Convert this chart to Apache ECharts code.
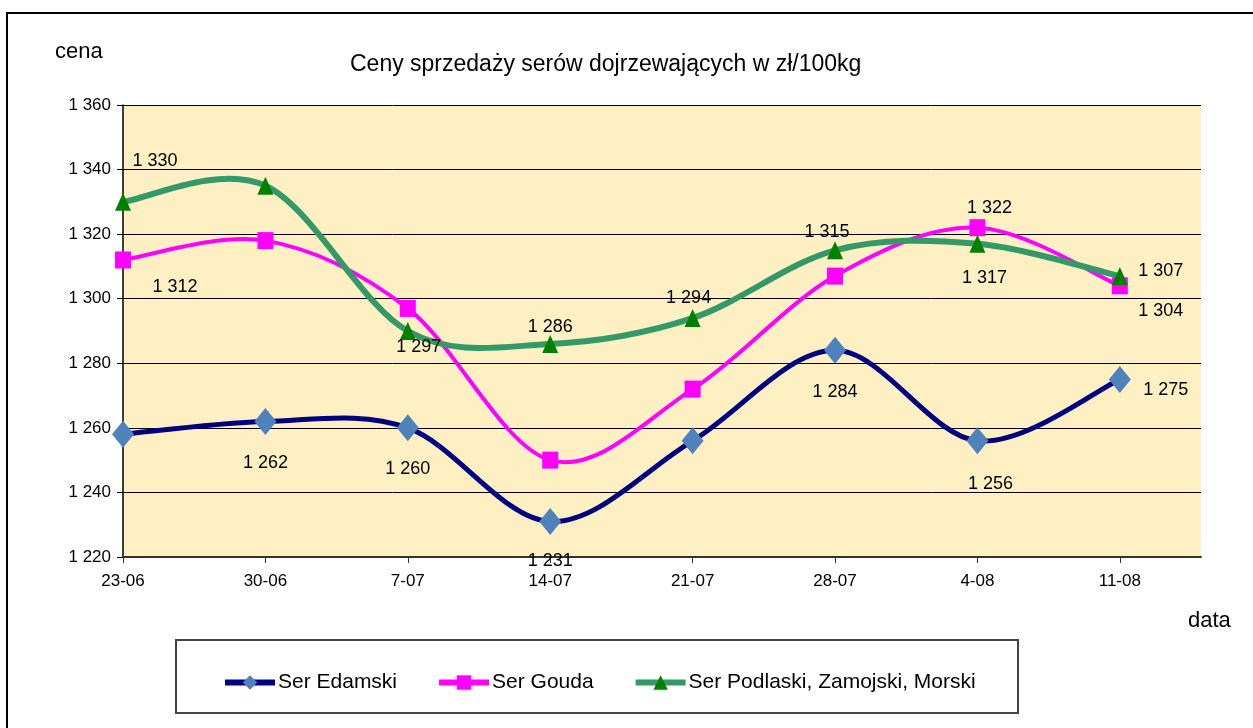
<!DOCTYPE html>
<html>
<head>
<meta charset="utf-8">
<script src="https://cdn.jsdelivr.net/npm/echarts@6/dist/echarts.min.js"></script>
<style>
  html, body { margin: 0; padding: 0; background: #fff; }
  #chart { width: 1253px; height: 728px; }
</style>
</head>
<body>
<div id="chart"></div>
<script>
// dane z wykresu
var categories = ['23-06', '30-06', '7-07', '14-07', '21-07', '28-07', '4-08', '11-08'];
var edamski = [1258, 1262, 1260, 1231, 1256, 1284, 1256, 1275];
var gouda = [1312, 1318, 1297, 1250, 1272, 1307, 1322, 1304];
var podlaski = [1330, 1335, 1290, 1286, 1294, 1315, 1317, 1307];

// gdzie stoja etykiety (null = brak etykiety)
var edamskiLabels = [null, [0, 42], [0, 41], [0, 40], null, [0, 42], [13, 43], [46, 11]];
var goudaLabels = [[52, 27], null, [11, 39], null, null, null, [12, -20], [41, 25]];
var podlaskiLabels = [[32, -41], null, null, [0, -17], [-4, -20], [-8, -18], [7, 34], [41, -5]];

var FONT = '"Liberation Sans", Arial, sans-serif';

function fmt(v) {
    var s = String(Math.round(v));
    return s.length > 3 ? s.slice(0, s.length - 3) + ' ' + s.slice(-3) : s;
}

function buildData(values, labels) {
    return values.map(function (v, i) {
        var item = { value: [i, v] };
        if (labels[i]) {
            item.label = { show: true, position: 'inside', offset: labels[i] };
        } else {
            item.label = { show: false };
        }
        return item;
    });
}

// wygladzona linia jak w Excelu (bezier przez punkty)
function curveSeries(values, color, width, z) {
    return {
        type: 'custom',
        z: z,
        silent: true,
        data: values.map(function (v, i) { return [i, v]; }),
        encode: { x: 0, y: 1 },
        renderItem: function (params, api) {
            var i = params.dataIndex;
            var n = values.length;
            if (i >= n - 1) return null;
            var pt = function (k) {
                k = Math.max(0, Math.min(n - 1, k));
                return api.coord([k, values[k]]);
            };
            var p0 = pt(i - 1), p1 = pt(i), p2 = pt(i + 1), p3 = pt(i + 2);
            return {
                type: 'bezierCurve',
                shape: {
                    x1: p1[0], y1: p1[1],
                    x2: p2[0], y2: p2[1],
                    cpx1: p1[0] + (p2[0] - p0[0]) / 6,
                    cpy1: p1[1] + (p2[1] - p0[1]) / 6,
                    cpx2: p2[0] - (p3[0] - p1[0]) / 6,
                    cpy2: p2[1] - (p3[1] - p1[1]) / 6
                },
                style: { stroke: color, lineWidth: width, fill: null, lineCap: 'round' }
            };
        }
    };
}

var tickIdx = categories.map(function (c, i) { return i; });
var labelFmt = function (p) { return fmt(p.value[1]); };

var myChart = echarts.init(document.getElementById('chart'));
myChart.setOption({
    animation: false,
    title: {
        text: 'Ceny sprzedaży serów dojrzewających w zł/100kg',
        left: 345,
        top: 48,
        textStyle: { fontFamily: FONT, fontSize: 23, fontWeight: 'normal', color: '#000' }
    },
    graphic: [
        {
            type: 'rect',
            shape: { x: 7, y: 13, width: 1400, height: 900 },
            style: { fill: 'none', stroke: '#000', lineWidth: 2 },
            silent: true
        },
        {
            type: 'rect',
            shape: { x: 176, y: 640, width: 842, height: 73 },
            style: { fill: '#fff', stroke: '#444', lineWidth: 2 },
            silent: true,
            z: -1
        },
        {
            type: 'text',
            left: 55,
            top: 41,
            style: { text: 'cena', fontFamily: FONT, fontSize: 22, fill: '#000' }
        },
        {
            type: 'text',
            left: 1188,
            top: 610,
            style: { text: 'data', fontFamily: FONT, fontSize: 22, fill: '#000' }
        }
    ],
    legend: {
        left: 217,
        top: 667,
        itemWidth: 50,
        itemHeight: 18,
        itemGap: 39,
        textStyle: { fontFamily: FONT, fontSize: 21, color: '#000', padding: [0, 0, 0, -2] },
        data: [
            { name: 'Ser Edamski', lineStyle: { color: '#000080', width: 6, opacity: 1 } },
            { name: 'Ser Gouda', lineStyle: { color: '#ff00ff', width: 6, opacity: 1 } },
            { name: 'Ser Podlaski, Zamojski, Morski', lineStyle: { color: '#339966', width: 6, opacity: 1 } }
        ]
    },
    grid: {
        left: 123,
        right: 52,
        top: 105,
        bottom: 171,
        show: true,
        backgroundColor: '#fef0c3',
        borderWidth: 0
    },
    xAxis: {
        type: 'value',
        min: 0,
        max: 7.57,
        interval: 1,
        splitLine: { show: false },
        axisLine: { show: true, lineStyle: { color: '#333', width: 2 } },
        axisTick: { show: true, length: 6, customValues: tickIdx, lineStyle: { color: '#333' } },
        axisLabel: {
            customValues: tickIdx,
            margin: 16,
            fontFamily: FONT,
            fontSize: 17,
            color: '#000',
            formatter: function (v) { return categories[v] || ''; }
        }
    },
    yAxis: {
        type: 'value',
        min: 1220,
        max: 1360,
        interval: 20,
        axisLine: { show: true, lineStyle: { color: '#000', width: 1.5 } },
        axisTick: { show: true, length: 6, lineStyle: { color: '#000' } },
        splitLine: { show: true, lineStyle: { color: '#000', width: 1 } },
        axisLabel: {
            margin: 12,
            fontFamily: FONT,
            fontSize: 17,
            color: '#000',
            formatter: fmt
        }
    },
    series: [
        curveSeries(edamski, '#000080', 5, 1),
        curveSeries(gouda, '#ff00ff', 4, 1),
        curveSeries(podlaski, '#339966', 6, 1),
        {
            name: 'Ser Edamski',
            type: 'line',
            z: 3,
            data: buildData(edamski, edamskiLabels),
            symbol: 'diamond',
            symbolSize: [22, 27],
            lineStyle: { color: '#000080', width: 5, opacity: 0 },
            itemStyle: { color: '#4f81bd' },
            label: { fontFamily: FONT, fontSize: 18, color: '#000', formatter: labelFmt }
        },
        {
            name: 'Ser Gouda',
            type: 'line',
            z: 3,
            data: buildData(gouda, goudaLabels),
            symbol: 'rect',
            symbolSize: [16, 17],
            lineStyle: { color: '#ff00ff', width: 4, opacity: 0 },
            itemStyle: { color: '#ff00ff' },
            label: { fontFamily: FONT, fontSize: 18, color: '#000', formatter: labelFmt }
        },
        {
            name: 'Ser Podlaski, Zamojski, Morski',
            type: 'line',
            z: 3,
            data: buildData(podlaski, podlaskiLabels),
            symbol: 'triangle',
            symbolSize: [16, 18],
            lineStyle: { color: '#339966', width: 6, opacity: 0 },
            itemStyle: { color: '#008000' },
            label: { fontFamily: FONT, fontSize: 18, color: '#000', formatter: labelFmt }
        }
    ]
});
</script>
</body>
</html>
